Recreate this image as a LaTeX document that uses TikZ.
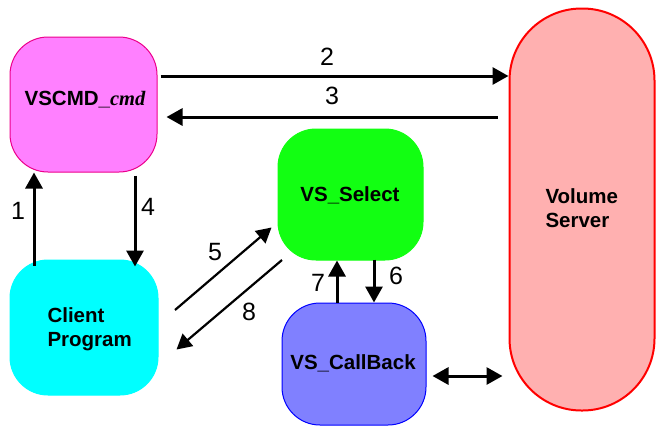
\documentclass[tikz,border=0pt]{standalone}
\usepackage{fontspec}
\setmainfont{Liberation Sans}
\newfontfamily\timesf{Liberation Serif}
\usetikzlibrary{arrows.meta,calc}
\begin{document}
\begin{tikzpicture}[x=1pt,y=-1pt,
  box/.style={draw, line width=1pt, rounded corners=38pt, inner sep=0pt},
  lbl/.style={font=\fontsize{20.5}{24}\selectfont\bfseries},
  num/.style={font=\fontsize{25}{28}\selectfont},
  arr/.style={line width=3pt, -{Triangle[length=16pt,width=17pt]}},
  thin/.style={line width=2.2pt, -{Triangle[length=15pt,width=16pt]}}
]
\useasboundingbox (0,0) rectangle (656,432);
\definecolor{pinkf}{HTML}{FF80FF}
\definecolor{cyanf}{HTML}{00FFFF}
\definecolor{greenf}{HTML}{12FF12}
\definecolor{bluef}{HTML}{8080FF}
\definecolor{redf}{HTML}{FFB0B0}

\node[box, draw=magenta, fill=pinkf, minimum width=147pt, minimum height=135pt] (vscmd) at (83.5,104.5) {};
\node[lbl] (vscmdt) at (85,100) {VSCMD\_{\timesf\bfseries\itshape cmd}};
\node[box, draw=cyanf, fill=cyanf, minimum width=148pt, minimum height=135pt] (cp) at (84,327.5) {};
\node[lbl, anchor=west, align=left] (cpt) at (44,329) {Client\\Program};
\node[box, draw=greenf, fill=greenf, minimum width=145pt, minimum height=131pt] (sel) at (350.5,194.5) {};
\node[lbl] (selt) at (350,195) {VS\_Select};
\node[box, draw=blue, fill=bluef, minimum width=144pt, minimum height=122pt] (cb) at (354,364) {};
\node[lbl] (cbt) at (353,363) {VS\_CallBack};
\node[draw=red, line width=2pt, fill=redf, rounded corners=72pt, minimum width=145pt, minimum height=402pt, inner sep=0pt] (vs) at (582,209.5) {};
\node[lbl, anchor=west, align=left] (vst) at (542,208) {Volume\\Server};

% 2 and 3
\draw[arr] (vscmd.east |- 0,76) ++(3,0) coordinate (a2) -- (vs.west |- 0,76);
\node[num] (n2) at (327,57) {2};
\draw[arr] (vs.west |- 0,117) ++(-11,0) -- ($(vscmd.east |- 0,117)+(9,0)$);
\node[num] (n3) at (332,96) {3};
% 1 and 4
\draw[arr] (cp.north -| 34,0) ++(0,6) -- (vscmd.south -| 34,0);
\node[num] (n1) at (18,211) {1};
\draw[arr] (vscmd.south -| 135,0) ++(0,3) -- ($(cp.north -| 135,0)+(0,7)$);
\node[num] (n4) at (148,207) {4};
% 5 and 8
\coordinate (s5) at (175,310);
\coordinate (s8) at (282,260);
\draw[thin] (s5) -- ($(sel.west)+(-6,33)$);
\node[num] (n5) at (215,252) {5};
\draw[thin] (s8) -- ($(cp.east)+(18,22)$);
\node[num] (n8) at (249,312) {8};
% 6 and 7
\draw[arr] (cb.north -| 337,0) -- (sel.south -| 337,0);
\node[num] (n7) at (318,283) {7};
\draw[arr] ($(sel.south -| 374,0)+(0,-1)$) -- (cb.north -| 374,0);
\node[num] (n6) at (396,276) {6};
% double arrow
\draw[line width=3pt, {Triangle[length=16pt,width=17pt]}-{Triangle[length=16pt,width=17pt]}] ($(cb.east |- 0,376)+(6,0)$) -- ($(vs.west |- 0,376)+(-6,0)$);
\end{tikzpicture}
\end{document}
